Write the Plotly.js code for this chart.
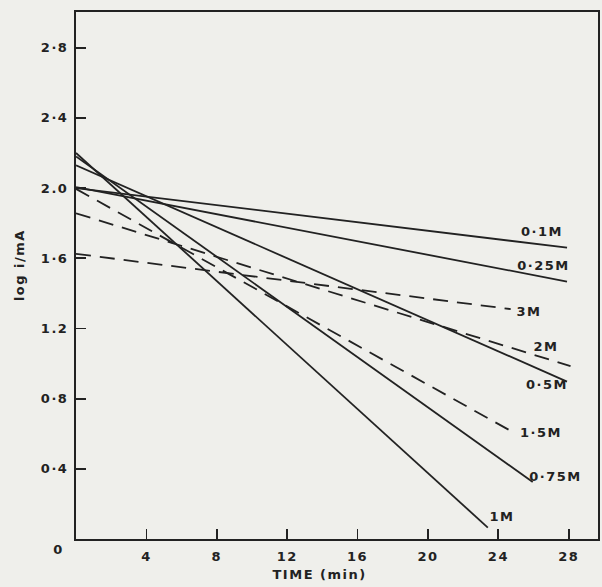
<!DOCTYPE html>
<html>
<head>
<meta charset="utf-8">
<script src="https://cdn.plot.ly/plotly-3.0.1.min.js"></script>
<style>html,body{margin:0;padding:0;background:#efefeb;}#chart{width:602px;height:587px;}
#chart text{letter-spacing:1.5px;}</style>
</head>
<body>
<div id="chart"></div>
<script>
// Series: [time start, time end] and [log i start, log i end]
const seriesNames = ['0·1M', '0·25M', '0·5M', '0·75M', '1M', '3M', '2M', '1·5M'];
const t_01M  = [0, 27.9];  const y_01M  = [2.00, 1.66];
const t_025M = [0, 27.9];  const y_025M = [2.005, 1.467];
const t_05M  = [0, 27.9];  const y_05M  = [2.13, 0.897];
const t_075M = [0, 25.95]; const y_075M = [2.18, 0.325];
const t_1M   = [0, 23.4];  const y_1M   = [2.20, 0.065];
const t_3M   = [0, 24.7];  const y_3M   = [1.625, 1.31];
const t_2M   = [0, 28.1];  const y_2M   = [1.856, 0.985];
const t_15M  = [0, 24.9];  const y_15M  = [1.995, 0.605];

// label anchor positions (data coords)
const labelX = [26.46, 26.59, 26.79, 27.27, 24.2, 25.74, 26.73, 26.42];
const labelY = [1.752, 1.556, 0.879, 0.355, 0.127, 1.297, 1.095, 0.605];

const xTickVals = [4, 8, 12, 16, 20, 24, 28];
const xTickText = ['4', '8', '12', '16', '20', '24', '28'];
const yTickVals = [0.4, 0.8, 1.2, 1.6, 2.0, 2.4, 2.8];
const yTickText = ['0·4', '0·8', '1.2', '1·6', '2.0', '2·4', '2·8'];

const ink = '#222222';
const solid = {color: ink, width: 1.8};
const dashed = {color: ink, width: 1.8, dash: '15px,9px'};

const xs = [t_01M, t_025M, t_05M, t_075M, t_1M, t_3M, t_2M, t_15M];
const ys = [y_01M, y_025M, y_05M, y_075M, y_1M, y_3M, y_2M, y_15M];
const traces = xs.map((x, i) => ({
  x: x, y: ys[i], type: 'scatter', mode: 'lines', name: seriesNames[i],
  line: i < 5 ? solid : dashed, hoverinfo: 'skip'
}));

const font = {family: 'DejaVu Sans, sans-serif', size: 13, color: ink, weight: 'bold'};
const annotations = seriesNames.map((n, i) => ({
  x: labelX[i], y: labelY[i], xref: 'x', yref: 'y', text: n,
  showarrow: false, font: font, xanchor: 'center', yanchor: 'middle'
}));
annotations.push({x: -0.033, y: -0.02, xref: 'paper', yref: 'paper', text: '0', showarrow: false, font: font,
  xanchor: 'center', yanchor: 'middle'});
annotations.push({x: -0.107, y: 0.52, xref: 'paper', yref: 'paper', text: 'log i/mA', textangle: -90,
  showarrow: false, font: font, xanchor: 'center', yanchor: 'middle'});
annotations.push({x: 13.86, y: -0.068, xref: 'x', yref: 'paper', text: 'TIME (min)',
  showarrow: false, font: font, xanchor: 'center', yanchor: 'middle'});

const layout = {
  width: 602, height: 587,
  margin: {l: 76, r: 4, t: 12, b: 48},
  paper_bgcolor: '#efefeb', plot_bgcolor: '#efefeb',
  showlegend: false,
  font: font,
  xaxis: {range: [0, 29.66], tickvals: xTickVals, ticktext: xTickText, ticks: 'inside', ticklen: 10,
    tickwidth: 1.8, tickcolor: ink, showline: true, linecolor: ink, linewidth: 2, mirror: true,
    showgrid: false, zeroline: false, tickfont: font, ticklabelstandoff: 4},
  yaxis: {range: [0, 3.003], tickvals: yTickVals, ticktext: yTickText, ticks: 'inside', ticklen: 10,
    tickwidth: 1.8, tickcolor: ink, showline: true, linecolor: ink, linewidth: 2, mirror: true,
    showgrid: false, zeroline: false, tickfont: font, ticklabelstandoff: 3},
  annotations: annotations
};
Plotly.newPlot('chart', traces, layout, {displayModeBar: false, staticPlot: true});
</script>
</body>
</html>
